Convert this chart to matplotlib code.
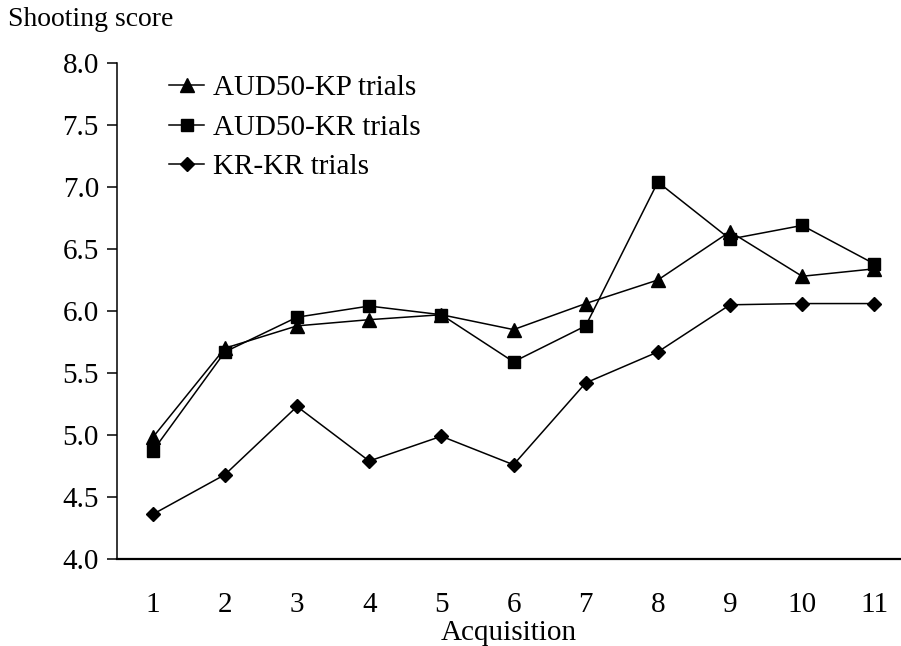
import matplotlib
matplotlib.use("Agg")
import matplotlib.pyplot as plt

plt.rcParams['font.family'] = ['Liberation Serif', 'DejaVu Serif']

acquisition = [1, 2, 3, 4, 5, 6, 7, 8, 9, 10, 11]
aud50_kp = [4.98, 5.70, 5.88, 5.93, 5.97, 5.85, 6.06, 6.25, 6.64, 6.28, 6.34]
aud50_kr = [4.87, 5.67, 5.95, 6.04, 5.97, 5.59, 5.88, 7.04, 6.58, 6.69, 6.38]
kr_kr = [4.36, 4.68, 5.23, 4.79, 4.99, 4.76, 5.42, 5.67, 6.05, 6.06, 6.06]
yticks = [4.0, 4.5, 5.0, 5.5, 6.0, 6.5, 7.0, 7.5, 8.0]

fig = plt.figure(figsize=(9.01, 6.46), dpi=100)
ax = fig.add_axes([117/901, 1 - 559/646, (900 - 117)/901, (559 - 63)/646])

lw = 1.1
ax.plot(acquisition, aud50_kp, '-^', color='k', lw=lw, ms=10, label='AUD50-KP trials')
ax.plot(acquisition, aud50_kr, '-s', color='k', lw=lw, ms=9, label='AUD50-KR trials')
ax.plot(acquisition, kr_kr, '-D', color='k', lw=lw, ms=7.5, label='KR-KR trials')

ax.set_xlim(0.505, 11.356)
ax.set_ylim(4.0, 8.0)
ax.set_yticks(yticks)
ax.set_yticklabels(['%.1f' % v for v in yticks])
ax.set_xticks(acquisition)

ax.spines['top'].set_visible(False)
ax.spines['right'].set_visible(False)
ax.spines['left'].set_linewidth(1.1)
ax.spines['bottom'].set_linewidth(1.6)

ax.tick_params(axis='y', direction='out', length=7, width=1.1, pad=6, labelsize=21)
ax.tick_params(axis='x', length=0, pad=24, labelsize=21)

ax.set_xlabel('Acquisition', fontsize=21, labelpad=1)
fig.text(8/901, 1 - 20/646, 'Shooting score', fontsize=20, va='center', ha='left')

ax.legend(loc='upper left', bbox_to_anchor=(169/901, 1 - 75/646),
          bbox_transform=fig.transFigure, frameon=False, fontsize=21,
          handlelength=1.2, handletextpad=0.3, labelspacing=0.45,
          borderaxespad=0, borderpad=0)

fig.savefig('out.png', dpi=100)
